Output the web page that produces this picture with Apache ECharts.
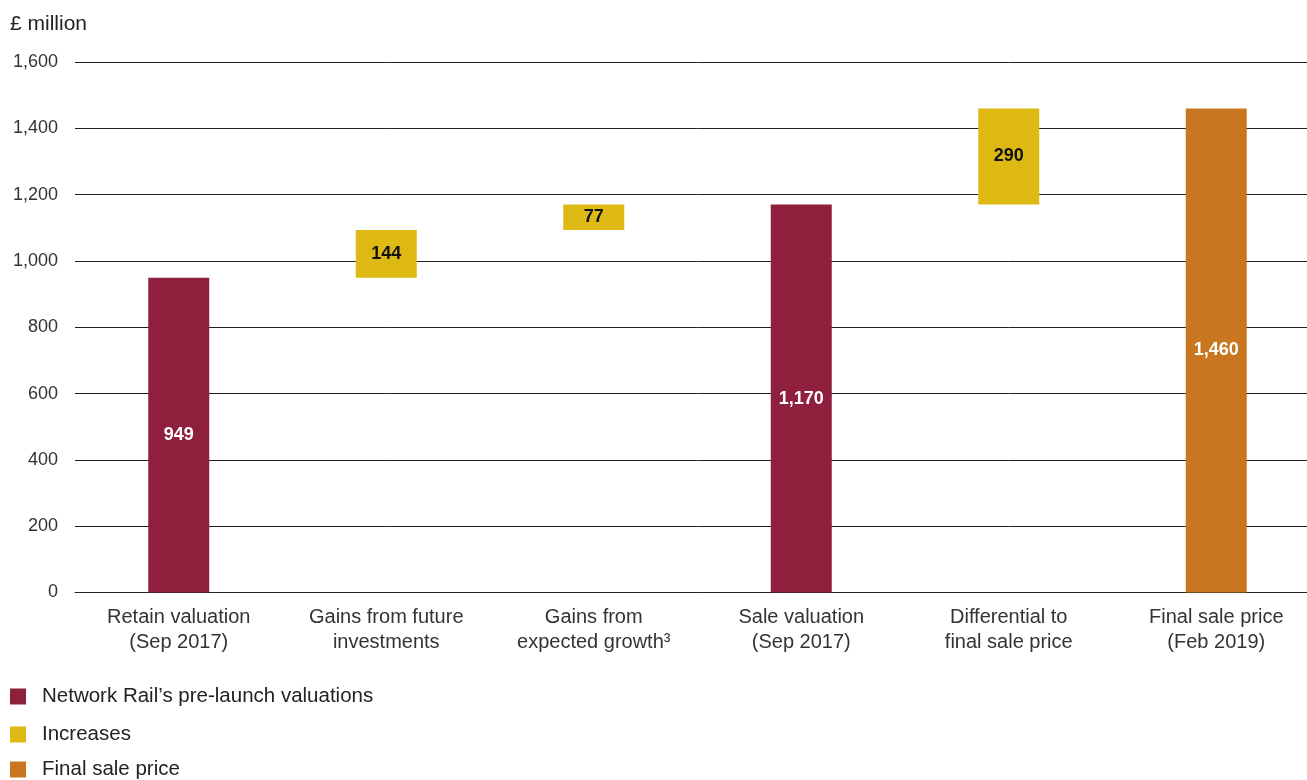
<!DOCTYPE html>
<html>
<head>
<meta charset="utf-8">
<script src="https://cdn.jsdelivr.net/npm/echarts@6/dist/echarts.min.js"></script>
<style>
  html, body { margin: 0; padding: 0; background: #fff; overflow: hidden; }
  /* The plot runs slightly past the right edge of the page, so the canvas is a bit wider than the window */
  #chart { width: 1320px; height: 780px; }
</style>
</head>
<body>
<div id="chart"></div>
<script>
// Categories along the x axis
const categories = [
  'Retain valuation\n(Sep 2017)',
  'Gains from future\ninvestments',
  'Gains from\nexpected growth³',
  'Sale valuation\n(Sep 2017)',
  'Differential to\nfinal sale price',
  'Final sale price\n(Feb 2019)'
];

// Values in £ million ('-' = no bar in that category)
const valuations = [949, '-', '-', 1170, '-', '-'];
const increases  = ['-', 144, 77, '-', 290, '-'];
const finalSale  = ['-', '-', '-', '-', '-', 1460];

// Invisible base for the floating increase bars: the running total before each step
const base = [0, 949, 1093, 0, 1170, 0];

const yTicks = { min: 0, max: 1600, interval: 200 };

const seriesNames = ["Network Rail’s pre-launch valuations", 'Increases', 'Final sale price'];
const seriesColors = ['#8E1F3D', '#DFB913', '#C87720'];

const fmt = v => Number(v).toLocaleString('en-GB');

const FONT = '"Liberation Sans", Arial, sans-serif';

const chart = echarts.init(document.getElementById('chart'), null, { renderer: 'canvas' });

const labelStyle = (color) => ({
  show: true,
  position: 'inside',
  color: color,
  fontFamily: FONT,
  fontWeight: 'bold',
  fontSize: 18,
  formatter: p => fmt(p.value)
});

// One legend block per row, stacked down the bottom-left corner
const legendTops = [686, 724, 759];
const legends = seriesNames.map((name, i) => ({
  orient: 'vertical',
  left: 10,
  top: legendTops[i],
  padding: 0,
  icon: 'rect',
  itemWidth: 16,
  itemHeight: 16,
  data: [name],
  textStyle: { fontFamily: FONT, fontSize: 20.5, color: '#222', padding: [0, 0, 0, 11] }
}));

chart.setOption({
  animation: false,
  textStyle: { fontFamily: FONT },
  graphic: [{
    type: 'text',
    left: 10,
    top: 14,
    style: { text: '£ million', fontFamily: FONT, fontSize: 21, fill: '#222' }
  }],
  legend: legends,
  grid: { left: 75, right: 0, top: 62, bottom: 187.5, containLabel: false },
  xAxis: {
    type: 'category',
    data: categories,
    axisLine: { show: true, lineStyle: { color: '#222', width: 1 } },
    axisTick: { show: false },
    axisLabel: {
      fontFamily: FONT, fontSize: 20, color: '#333', lineHeight: 25, margin: 12, interval: 0
    }
  },
  yAxis: {
    type: 'value',
    min: yTicks.min,
    max: yTicks.max,
    interval: yTicks.interval,
    axisLine: { show: false },
    axisTick: { show: false },
    splitLine: { lineStyle: { color: '#222', width: 1 } },
    axisLabel: {
      fontFamily: FONT, fontSize: 18, color: '#333', margin: 17,
      formatter: v => fmt(v)
    }
  },
  series: [
    {
      name: 'base', type: 'bar', stack: 'w', data: base, barWidth: 61,
      itemStyle: { color: 'transparent' }, silent: true
    },
    {
      name: seriesNames[0], type: 'bar', stack: 'w', data: valuations, barWidth: 61,
      itemStyle: { color: seriesColors[0] }, label: labelStyle('#fff')
    },
    {
      name: seriesNames[1], type: 'bar', stack: 'w', data: increases, barWidth: 61,
      itemStyle: { color: seriesColors[1] }, label: labelStyle('#111')
    },
    {
      name: seriesNames[2], type: 'bar', stack: 'w', data: finalSale, barWidth: 61,
      itemStyle: { color: seriesColors[2] }, label: labelStyle('#fff')
    }
  ]
});
</script>
</body>
</html>
